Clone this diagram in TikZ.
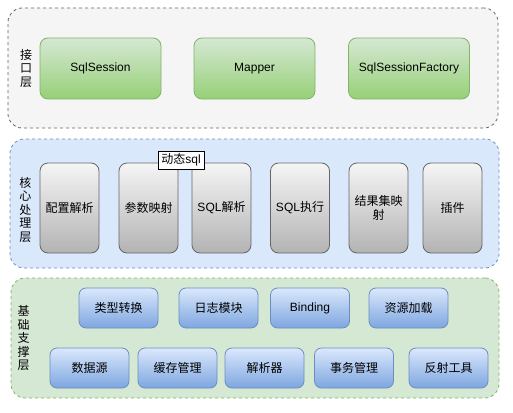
\documentclass[tikz,border=0pt]{standalone}
\usepackage{fontspec}
\setmainfont{Liberation Sans}
\newfontfamily\cjk{Noto Sans CJK SC}
\definecolor{grayfill}{HTML}{F5F5F5}
\definecolor{graystroke}{HTML}{666666}
\definecolor{bluefill}{HTML}{DAE8FC}
\definecolor{bluestroke}{HTML}{6C8EBF}
\definecolor{greenfill}{HTML}{D5E8D4}
\definecolor{greenstroke}{HTML}{82B366}
\definecolor{greendark}{HTML}{97D077}
\definecolor{greydark}{HTML}{B3B3B3}
\definecolor{bluedark}{HTML}{7EA6E0}
\begin{document}
\begin{tikzpicture}[x=1pt,y=-1pt,
  every node/.style={font=\fontsize{12}{14}\selectfont, inner sep=0pt, align=center},
  layer/.style={draw, dash pattern=on 3pt off 3pt, rounded corners=14pt, line width=0.8pt},
  toplayer/.style={layer, draw=graystroke, fill=grayfill},
  midlayer/.style={layer, draw=bluestroke, fill=bluefill},
  botlayer/.style={layer, draw=greenstroke, fill=greenfill},
  greenbox/.style={draw=greenstroke, rounded corners=8pt, top color=greenfill, bottom color=greendark, minimum width=121pt, minimum height=61pt, line width=0.8pt},
  greybox/.style={draw=graystroke, rounded corners=8pt, top color=grayfill, bottom color=greydark, minimum width=59pt, minimum height=90pt, line width=0.8pt},
  bluebox/.style={draw=bluestroke, rounded corners=7pt, top color=bluefill, bottom color=bluedark, minimum width=79pt, minimum height=40pt, line width=0.8pt},
  tagbox/.style={draw=black, fill=white, minimum width=46pt, minimum height=18pt, line width=0.6pt},
  layerlabel/.style={font=\cjk\fontsize{12}{13.5}\selectfont}
]
\useasboundingbox (0,0) rectangle (513,412);

% layers
\node[toplayer, minimum width=490pt, minimum height=120pt] (L1) at (253,68) {};
\node[midlayer, minimum width=489pt, minimum height=129pt] (L2) at (254.5,203.5) {};
\node[botlayer, minimum width=488pt, minimum height=120pt] (L3) at (255,338) {};

% layer labels
\node[layerlabel] (t1) at (26,68) {接\\口\\层};
\node[layerlabel] (t2) at (25.5,209.5) {核\\心\\处\\理\\层};
\node[layerlabel] (t3) at (23.5,338) {基\\础\\支\\撑\\层};

% interface layer
\node[greenbox] (ss) at (100.5,68.5) {SqlSession};
\node[greenbox] (mp) at (254.5,68.5) {Mapper};
\node[greenbox] (sf) at (409,68.5) {SqlSessionFactory};

% core layer
\node[greybox] (c1) at (69.5,208) {\cjk 配置解析};
\node[greybox] (c2) at (148.5,208) {\cjk 参数映射};
\node[greybox] (c3) at (221.5,208) {SQL{\cjk 解析}};
\node[greybox] (c4) at (300,208) {SQL{\cjk 执行}};
\node[greybox] (c5) at (378.5,208) {\cjk 结果集映\\\cjk 射};
\node[greybox] (c6) at (452.5,208) {\cjk 插件};
\node[tagbox] (dyn) at (181,160) {{\cjk 动态}sql};

% support layer
\node[bluebox] (b1) at (118.5,308) {\cjk 类型转换};
\node[bluebox] (b2) at (218.5,308) {\cjk 日志模块};
\node[bluebox] (b3) at (310,308) {Binding};
\node[bluebox] (b4) at (408.5,308) {\cjk 资源加载};
\node[bluebox] (b5) at (89.5,368) {\cjk 数据源};
\node[bluebox] (b6) at (177.5,368) {\cjk 缓存管理};
\node[bluebox] (b7) at (264.5,368) {\cjk 解析器};
\node[bluebox] (b8) at (354,368) {\cjk 事务管理};
\node[bluebox] (b9) at (448.5,368) {\cjk 反射工具};
\end{tikzpicture}
\end{document}
